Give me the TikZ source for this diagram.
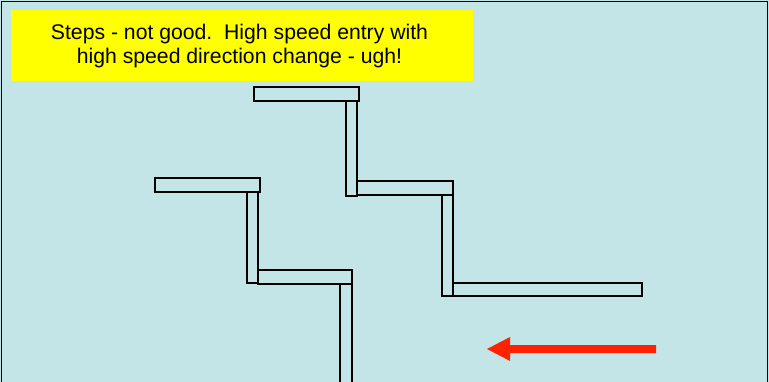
\documentclass[tikz,border=0pt]{standalone}
\usepackage{fontspec}
\setmainfont{Liberation Sans}
\definecolor{bgblue}{RGB}{196,229,232}
\definecolor{signyellow}{RGB}{255,255,0}
\definecolor{arrowred}{RGB}{255,34,0}
\begin{document}
\begin{tikzpicture}[x=1pt,y=-1pt,
  wall/.style={draw=black,line width=1.3pt,fill=bgblue},
  sign/.style={fill=signyellow,draw=none},
  bigarrow/.style={fill=arrowred,draw=none}]
\useasboundingbox (0,0) rectangle (769,382);
\fill[bgblue] (0,0) rectangle (769,382);
\draw[line width=1.5pt] (1.5,390) -- (1.5,1.5) -- (767.5,1.5) -- (767.5,390);
% sign
\fill[sign] (11,10) rectangle (473,81);
\node[align=center,font=\fontsize{21.2}{23.6}\selectfont,anchor=center,inner sep=0pt] (title) at (239.5,46)
  {Steps - not good.\ \ High speed entry with\\high speed direction change - ugh!};
% right staircase
\draw[wall] (254,87) rectangle (359,101);
\draw[wall] (346,101) rectangle (357,196);
\draw[wall] (357,181) rectangle (453,195);
\draw[wall] (442,195) rectangle (453,296);
\draw[wall] (453,283) rectangle (642,296);
% left staircase
\draw[wall] (155,178) rectangle (260,192);
\draw[wall] (247,192) rectangle (258,283);
\draw[wall] (258,270) rectangle (352,284);
\draw[wall] (340,284) rectangle (352,390);
% arrow
\fill[bigarrow] (656,345) -- (510,345) -- (510,337) -- (487,349) -- (510,361) -- (510,353) -- (656,353) -- cycle;
\end{tikzpicture}
\end{document}
